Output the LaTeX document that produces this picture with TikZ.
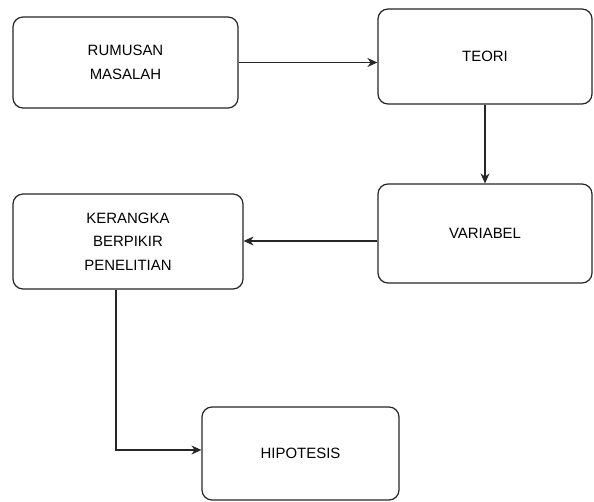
\documentclass[tikz,border=0pt]{standalone}
\usepackage{fontspec}
\setmainfont{Liberation Sans}
\usetikzlibrary{calc,arrows.meta}
\tikzset{
	kotak/.style={draw=black!85, line width=1.2bp, rounded corners=10bp, fill=white,
		align=center, font=\fontsize{15}{23.5}\selectfont, text=black, inner sep=0pt},
	panah/.style={draw=black!85, line width=1.2bp, -{Stealth[length=10bp, width=9bp]}}
}

\begin{document}
\begin{tikzpicture}[x=1bp, y=-1bp]
			%%%%% START %%%%%
			
			\useasboundingbox (0, 0) rectangle (594, 502);
			
			\node[kotak, minimum width=225bp, minimum height=91bp] (rumusan) at (125.5, 62.5) {RUMUSAN\\MASALAH};
			\node[kotak, minimum width=214bp, minimum height=95bp] (teori) at (485, 56.5) {TEORI};
			\node[kotak, minimum width=214bp, minimum height=99bp] (variabel) at (485, 233.5) {VARIABEL};
			\node[kotak, minimum width=230bp, minimum height=95bp] (kerangka) at (128, 241.5) {KERANGKA\\BERPIKIR\\PENELITIAN};
			\node[kotak, minimum width=197bp, minimum height=93bp] (hipotesis) at (300.5, 453.5) {HIPOTESIS};
			
			\draw[panah] (rumusan.east) -- (rumusan.east -| teori.west);
			\draw[panah] (teori.south) -- (variabel.north);
			\draw[panah] (variabel.west |- 0, 241) -- (kerangka.east |- 0, 241);
			\draw[panah] ([xshift=-12bp]kerangka.south) |- ($(hipotesis.west)+(0, -3.5)$);
			
			%%%%% END %%%%%
\end{tikzpicture}
\end{document}
